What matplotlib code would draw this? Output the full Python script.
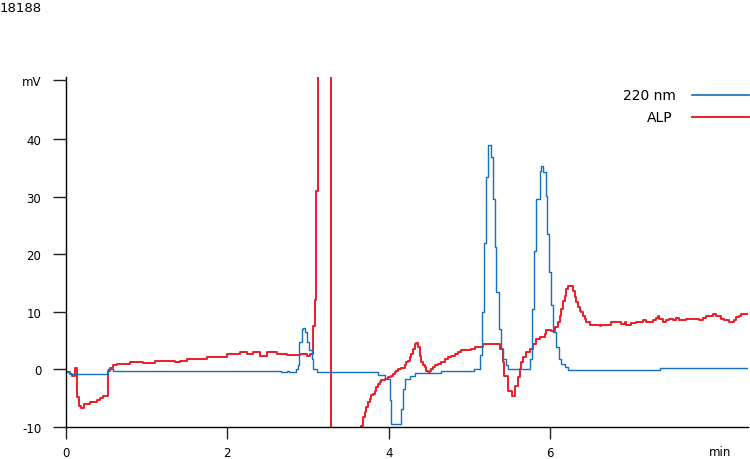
import numpy as np
import matplotlib
matplotlib.use("Agg")
from matplotlib import pyplot as plt
from matplotlib.lines import Line2D

# 220 nm trace (min, mV)
t_220 = [0.00, 0.05, 0.516, 0.58, 2.671, 2.74, 2.76, 2.85, 2.877, 2.889, 2.919,
         2.939, 2.960, 2.981, 3.013, 3.043, 3.063, 3.105, 3.864, 3.950, 4.012,
         4.025, 4.157, 4.173, 4.198, 4.260, 4.322, 4.653, 5.06, 5.127, 5.160,
         5.180, 5.201, 5.230, 5.272, 5.292, 5.313, 5.334, 5.366, 5.396, 5.415,
         5.449, 5.477, 5.746, 5.775, 5.796, 5.829, 5.870, 5.891, 5.911, 5.944,
         5.960, 5.985, 6.015, 6.035, 6.068, 6.109, 6.139, 6.180, 6.217, 7.36, 8.45]
v_220 = [-0.5, -0.8, 0.0, -0.2, -0.5, -0.3, -0.5, 0.0, 0.7, 4.7, 7.0,
         7.2, 6.5, 4.7, 3.3, 1.8, 0.1, -0.5, -1.0, -1.6, -5.4,
         -9.5, -6.9, -3.4, -1.6, -1.1, -0.6, -0.2, 0.0, 2.5, 10.0,
         22.0, 33.4, 39.0, 36.9, 29.6, 21.3, 13.5, 7.0, 3.6, 1.8,
         0.7, 0.0, 1.8, 10.5, 20.6, 29.6, 34.5, 35.3, 34.3, 30.2,
         23.5, 16.9, 11.1, 6.5, 3.9, 1.8, 1.0, 0.4, -0.1, 0.2, 0.2]

# ALP trace (min, mV) - goes off scale between about 3.13 and 3.66 min
t_alp = [0.00, 0.050, 0.074, 0.111, 0.133, 0.140, 0.161, 0.186, 0.223, 0.297,
         0.384, 0.421, 0.458, 0.516, 0.545, 0.582, 0.632, 0.79, 0.954, 1.10,
         1.251, 1.35, 1.412, 1.498, 1.746, 1.994, 2.155, 2.241, 2.316, 2.402,
         2.489, 2.613, 2.737, 2.898, 2.985, 3.022, 3.063, 3.084, 3.102, 3.129,
         3.282, 3.661, 3.682, 3.703, 3.723, 3.744, 3.765, 3.786, 3.806, 3.827,
         3.848, 3.868, 3.889, 3.909, 3.950, 3.992, 4.033, 4.054, 4.074, 4.095,
         4.116, 4.157, 4.198, 4.219, 4.239, 4.260, 4.281, 4.301, 4.322, 4.343,
         4.363, 4.384, 4.405, 4.425, 4.446, 4.466, 4.487, 4.508, 4.528, 4.549,
         4.570, 4.611, 4.652, 4.694, 4.735, 4.776, 4.817, 4.859, 4.900, 4.982,
         5.024, 5.065, 5.164, 5.375, 5.415, 5.428, 5.474, 5.523, 5.560, 5.601,
         5.622, 5.643, 5.663, 5.705, 5.746, 5.787, 5.829, 5.870, 5.932, 5.953,
         6.014, 6.056, 6.097, 6.118, 6.138, 6.159, 6.180, 6.200, 6.221, 6.262,
         6.283, 6.303, 6.324, 6.345, 6.365, 6.386, 6.406, 6.427, 6.448, 6.489,
         6.572, 6.613, 6.634, 6.737, 6.758, 6.861, 6.882, 6.923, 6.944, 7.006,
         7.068, 7.151, 7.192, 7.274, 7.315, 7.336, 7.356, 7.398, 7.439, 7.480,
         7.521, 7.562, 7.604, 7.686, 7.810, 7.851, 7.893, 7.934, 7.996, 8.016,
         8.058, 8.120, 8.161, 8.223, 8.285, 8.305, 8.346, 8.367, 8.45]
v_alp = [-0.5, -0.8, -1.1, 0.2, -0.8, -4.8, -6.3, -6.7, -6.0, -5.6,
         -5.4, -5.0, -4.7, -0.2, 0.2, 0.7, 1.0, 1.2, 1.1, 1.4,
         1.5, 1.3, 1.4, 1.8, 2.1, 2.7, 3.0, 2.7, 3.0, 2.4,
         3.0, 2.7, 2.5, 2.7, 2.4, 2.7, 7.5, 12.0, 31.0, 60.0,
         -20.0, -9.75, -8.3, -7.4, -6.6, -5.7, -5.1, -4.5, -4.3, -3.7,
         -3.1, -2.5, -2.2, -1.9, -1.6, -1.4, -1.1, -0.8, -0.5, -0.2,
         0.0, 0.2, 0.7, 1.2, 1.5, 2.1, 2.7, 3.6, 4.4, 4.6,
         3.9, 2.4, 1.2, 0.7, 0.4, -0.2, -0.4, -0.2, 0.1, 0.4,
         0.7, 1.0, 1.2, 1.8, 2.1, 2.4, 2.7, 3.0, 3.3, 3.4,
         3.6, 3.9, 4.4, 3.6, 1.2, -1.1, -3.7, -4.6, -2.9, -1.4,
         0.1, 1.2, 2.1, 3.0, 3.6, 4.4, 5.3, 5.6, 6.2, 6.9,
         6.7, 7.3, 8.2, 9.3, 10.5, 11.9, 12.8, 14.0, 14.5, 14.5,
         13.7, 12.5, 11.7, 10.8, 10.2, 9.9, 9.3, 8.8, 8.3, 7.7,
         7.7, 7.5, 7.7, 7.7, 8.2, 8.2, 7.9, 8.2, 7.7, 8.1,
         8.2, 8.5, 8.3, 8.5, 8.9, 9.2, 8.8, 8.2, 8.6, 8.8,
         8.6, 8.9, 8.5, 8.8, 8.8, 8.5, 8.9, 9.2, 9.3, 9.6,
         9.2, 8.8, 8.5, 8.3, 8.5, 9.1, 9.2, 9.6, 9.6]

y_ticks = [-10, 0, 10, 20, 30, 40]
x_ticks = [0, 2, 4, 6]

fig = plt.figure(figsize=(7.5, 4.6), dpi=100)
ax = fig.add_axes([0.088, 0.0696, 0.909, 0.761])

ax.plot(t_alp, v_alp, color='#ee1c25', lw=1.4, drawstyle='steps-post')
ax.plot(t_220, v_220, color='#1470c0', lw=1.0, drawstyle='steps-post')

ax.set_xlim(0, 8.45)
ax.set_ylim(-10, 50.8)
for s in ['top', 'right']:
    ax.spines[s].set_visible(False)
for s in ['left', 'bottom']:
    ax.spines[s].set_linewidth(1.0)

ax.set_yticks(y_ticks + [50.2])
ax.set_yticklabels([str(v) for v in y_ticks] + ['mV'])
ax.set_xticks(x_ticks)
ax.set_xticklabels([str(v) for v in x_ticks])
ax.tick_params(axis='y', direction='out', length=9.4, width=1.0, pad=8.5, labelsize=8.5, color='#222')
ax.tick_params(axis='x', direction='out', length=8.6, width=1.0, pad=5, labelsize=8.5, color='#222')

fig.text(720 / 750, 1 - 453 / 460, 'min', ha='center', va='center', fontsize=8.5)
fig.text(0.0, 0.995, '18188', ha='left', va='top', fontsize=9.5)

# legend drawn by hand
fig.text(676 / 750, 1 - 96 / 460, '220 nm', ha='right', va='center', fontsize=10)
fig.text(673 / 750, 1 - 118 / 460, 'ALP', ha='right', va='center', fontsize=10)
fig.add_artist(Line2D([692 / 750, 749 / 750], [1 - 96 / 460] * 2, color='#1470c0', lw=1.2))
fig.add_artist(Line2D([692 / 750, 749 / 750], [1 - 118 / 460] * 2, color='#ee1c25', lw=1.4))

fig.savefig('out.png', dpi=100)
